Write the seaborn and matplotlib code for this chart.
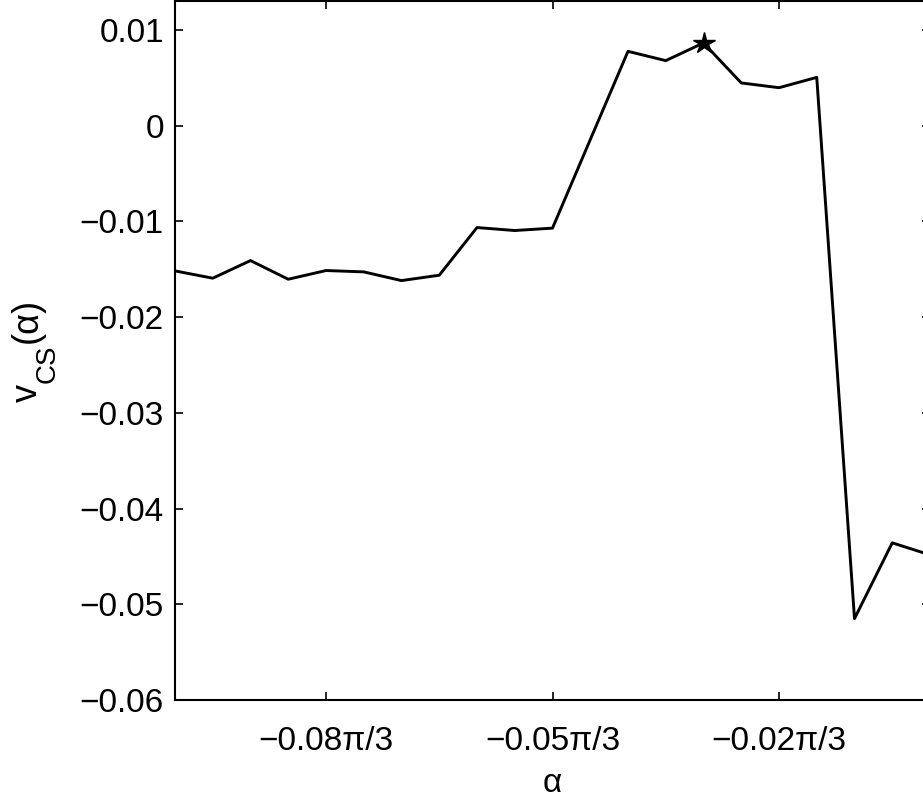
import numpy as np
import pandas as pd
import matplotlib
matplotlib.use("Agg")
import matplotlib.pyplot as plt
import seaborn as sns

# angle samples, in units of pi/3
alpha = [-0.100, -0.095, -0.090, -0.085, -0.080, -0.075, -0.070, -0.065,
         -0.060, -0.055, -0.050, -0.045, -0.040, -0.035, -0.030, -0.025,
         -0.020, -0.015, -0.010, -0.005, 0.000]
v_cs = [-0.01517, -0.01593, -0.01409, -0.01604, -0.01513, -0.01527,
        -0.01618, -0.01562, -0.01064, -0.01095, -0.01070, -0.00146,
        0.00777, 0.00680, 0.00865, 0.00447, 0.00397, 0.00505,
        -0.05150, -0.04358, -0.04484]

xtick_vals = [-0.08, -0.05, -0.02]
xtick_labels = ["\u22120.08\u03c0/3", "\u22120.05\u03c0/3", "\u22120.02\u03c0/3"]
ytick_vals = [0.01, 0.0, -0.01, -0.02, -0.03, -0.04, -0.05, -0.06]
ytick_labels = ["0.01", "0", "\u22120.01", "\u22120.02", "\u22120.03",
                "\u22120.04", "\u22120.05", "\u22120.06"]

df = pd.DataFrame({"alpha": alpha, "v": v_cs})
best = df.loc[df["v"].idxmax()]

sns.set_style("white")
plt.rcParams["font.family"] = ["Liberation Sans", "DejaVu Sans"]
plt.rcParams["text.color"] = "black"
plt.rcParams["axes.labelcolor"] = "black"
plt.rcParams["xtick.color"] = "black"
plt.rcParams["ytick.color"] = "black"

W, H = 923, 800
fig = plt.figure(figsize=(W / 100, H / 100), dpi=100)
ax = fig.add_axes([175 / W, 1 - 700 / H, 755 / W, 699 / H])

sns.lineplot(data=df, x="alpha", y="v", ax=ax, color="black",
             linewidth=2.1, estimator=None, sort=False)
ax.plot([best["alpha"]], [best["v"]], marker="*", color="black",
        markersize=16, linestyle="none")

ax.set_xlim(-0.1, 0.0)
ax.set_ylim(-0.06, 0.01303)
ax.set_xticks(xtick_vals)
ax.set_xticklabels(xtick_labels)
ax.set_yticks(ytick_vals)
ax.set_yticklabels(ytick_labels)

ax.tick_params(axis="both", which="both", direction="in", length=6,
               width=1.2, labelsize=24, top=True, right=True,
               bottom=True, left=True)
ax.tick_params(axis="x", pad=19)
ax.tick_params(axis="y", pad=8)
for s in ax.spines.values():
    s.set_visible(True)
    s.set_color("black")
    s.set_linewidth(1.5)

ax.set_xlabel("\u03b1", fontsize=24)
ax.xaxis.set_label_coords(0.5, -(768 - 700) / 699)
ax.set_ylabel("")

# y label built from pieces so the subscript sits low and large
fig.canvas.draw()
renderer = fig.canvas.get_renderer()
pieces = [("v", 26, 37), ("CS", 20, 55), ("(\u03b1)", 26, 37)]
y_disp = H - 402
for txt, size, base_x in pieces:
    t = fig.text(base_x / W, y_disp / H, txt, fontsize=size, rotation=90,
                 rotation_mode="anchor", ha="left", va="baseline")
    bb = t.get_window_extent(renderer)
    y_disp = bb.y1 + 1

fig.savefig("out.png", dpi=100)
